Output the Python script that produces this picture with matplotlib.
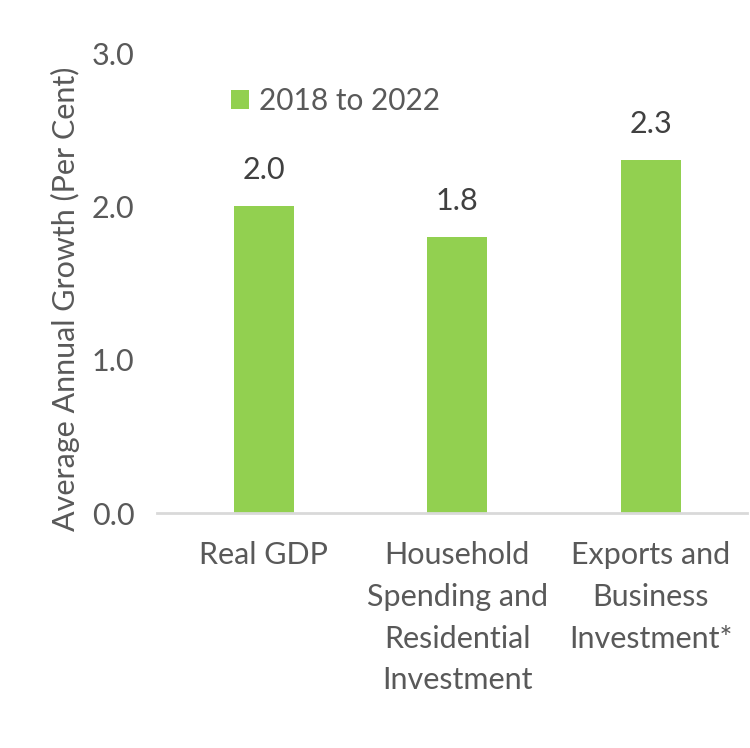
import matplotlib.pyplot as plt

categories = [
    "Real GDP",
    "Household\nSpending and\nResidential\nInvestment",
    "Exports and\nBusiness\nInvestment*",
]
values = [2.0, 1.8, 2.3]
series_name = "2018 to 2022"
yticks = [0.0, 1.0, 2.0, 3.0]

plt.rcParams["font.family"] = ["Lato", "DejaVu Sans"]

fig = plt.figure(figsize=(7.5, 7.48), dpi=100)
ax = fig.add_axes([0.209, 0.314, 0.787, 0.615])

x = range(len(categories))
ax.bar(x, values, width=0.31, color="#92D050", label=series_name, zorder=2)

for xi, v in zip(x, values):
    ax.annotate(f"{v:.1f}", (xi, v), xytext=(0, 16), textcoords="offset points",
                ha="center", va="bottom", fontsize=22, color="#404040")

ax.set_xlim(-0.553, 2.496)
ax.set_ylim(0, 3)
ax.set_yticks(yticks)
ax.set_yticklabels([f"{t:.1f}" for t in yticks], fontsize=22, color="#595959")
ax.set_xticks(list(x))
ax.set_xticklabels(categories, fontsize=22, color="#595959", linespacing=1.6, va="top")
ax.tick_params(axis="both", length=0)
ax.tick_params(axis="y", pad=16)
ax.tick_params(axis="x", pad=20)

for side in ["top", "right", "left"]:
    ax.spines[side].set_visible(False)
ax.spines["bottom"].set_color("#D9D9D9")
ax.spines["bottom"].set_linewidth(2)

ax.set_ylabel("Average Annual Growth (Per Cent)", fontsize=22, color="#595959")
ax.yaxis.set_label_coords(-0.13, 0.465)

ax.legend(loc="upper left", bbox_to_anchor=(0.08, 0.985), frameon=False, fontsize=21.5,
          labelcolor="#595959", handlelength=0.6, handleheight=0.6, handletextpad=0.35)

fig.savefig("out.png")
